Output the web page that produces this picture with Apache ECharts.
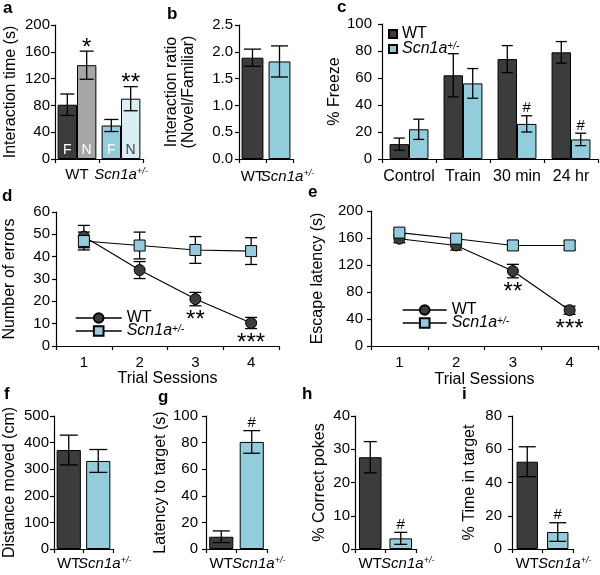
<!DOCTYPE html>
<html><head><meta charset="utf-8">
<script src="https://cdn.jsdelivr.net/npm/echarts@6/dist/echarts.min.js"></script>
<style>html,body{margin:0;padding:0;background:#fff}#c{width:600px;height:575px}</style>
</head><body><div id="c"></div>
<script>
// ---------------- DATA ----------------
const groups = ['WT', 'Scn1a'];
// a: social novelty interaction time (s)
const aFamiliar = [81, 50];
const aFamiliarErr = [16, 9];
const aNovel = [140, 90];
const aNovelErr = [21, 18];
const aNovelMarks = ['*', '**'];
const aBarText = ['F', 'N'];
// b: interaction ratio
const bRatio = [1.89, 1.82];
const bRatioErr = [0.16, 0.29];
// c: fear conditioning
const cCats = ['Control', 'Train', '30 min', '24 hr'];
const cWT = [11, 62, 74, 79];
const cWTErr = [4.5, 16, 10, 8];
const cScn = [22, 56, 26, 14.5];
const cScnErr = [7.5, 11, 6, 4.6];
const cScnMarks = ['', '', '#', '#'];
// d, e: Barnes maze sessions
const sessions = ['1', '2', '3', '4'];
const dWT = [49, 34, 21, 10.3];
const dWTErr = [5, 3.8, 3, 2.5];
const dScn = [47, 45, 43, 42.5];
const dScnErr = [4, 6, 6, 6];
const dWTMarks = ['', '', '**', '***'];
const eWT = [159, 149, 111, 53];
const eWTErr = [6, 7, 10, 6];
const eScn = [168, 159, 149, 149];
const eScnErr = [4, 5, 6, 6];
const eWTMarks = ['', '', '**', '***'];
// f-i
const fDist = [372, 331];
const fDistErr = [56, 43];
const gLatency = [9.2, 80.5];
const gLatencyErr = [4.4, 8.5];
const gMarks = ['', '#'];
const hPokes = [27.6, 3.2];
const hPokesErr = [4.7, 1.8];
const hMarks = ['', '#'];
const iTime = [52.5, 10.2];
const iTimeErr = [9, 5.6];
const iMarks = ['', '#'];

// ---------------- STYLE ----------------
const FONT = '"Liberation Sans", Arial, sans-serif';
const DARK = '#3c3c3c', BLUE = '#92cddc', GRAY = '#a6a6a6', PALE = '#dbeef4';
const grids = [
  {left: 55, top: 25, width: 88, height: 134},   // a
  {left: 239, top: 25, width: 54, height: 134},  // b
  {left: 382, top: 24, width: 216, height: 135}, // c
  {left: 54, top: 212, width: 225, height: 134}, // d
  {left: 371, top: 211, width: 227, height: 135},// e
  {left: 53, top: 416, width: 60, height: 133},  // f
  {left: 206, top: 416, width: 61, height: 133}, // g
  {left: 355, top: 416, width: 61, height: 133}, // h
  {left: 512, top: 416, width: 61, height: 133}  // i
];
const black = '#000';
const rich = (shift) => ({
  i: {fontStyle: 'italic', fontSize: 15, fontFamily: FONT, color: black, padding: [0, 0, 0, shift]},
  s: {fontStyle: 'italic', fontSize: 9, fontFamily: FONT, color: black, verticalAlign: 'top', padding: [0, 0, 6, 0]}
});
const grpFmt = v => v === 'Scn1a' ? '{i|Scn1a}{s|+/-}' : v;

function xAx(gi, cats, margin, shift, fs, name, nameGap) {
  return {type: 'category', gridIndex: gi, data: cats, boundaryGap: true,
    name: name || '', nameLocation: 'middle', nameGap: nameGap || 20,
    nameTextStyle: {color: black, fontSize: 16, fontFamily: FONT},
    axisLine: {show: true, lineStyle: {color: black, width: 1.2}},
    axisTick: {show: true, length: 4, lineStyle: {color: black, width: 1.2}},
    axisLabel: {color: black, fontSize: fs || 15, fontFamily: FONT, margin: margin,
      formatter: grpFmt, rich: rich(shift || 0), interval: 0},
    splitLine: {show: false}};
}
function yAx(gi, max, interval, name, gap, margin, fmt) {
  return {type: 'value', gridIndex: gi, min: 0, max: max, interval: interval,
    name: name, nameLocation: 'middle', nameRotate: 90, nameGap: gap,
    nameTextStyle: {color: black, fontSize: 16, fontFamily: FONT, lineHeight: 17},
    axisLine: {show: true, lineStyle: {color: black, width: 1.2}},
    axisTick: {show: true, length: 4, lineStyle: {color: black, width: 1.2}},
    axisLabel: {color: black, fontSize: 15, fontFamily: FONT, margin: margin, formatter: fmt},
    splitLine: {show: false}};
}
function barSeries(gi, vals, colors, width, extra) {
  return Object.assign({type: 'bar', xAxisIndex: gi, yAxisIndex: gi, barWidth: width, barGap: '0%',
    data: vals.map((v, k) => ({value: v, itemStyle: {color: colors[k]}})),
    itemStyle: {borderColor: black, borderWidth: 1}, z: 2}, extra || {});
}
function errSeries(gi, vals, errs, marks, opt) {
  return {type: 'custom', xAxisIndex: gi, yAxisIndex: gi, z: 5, silent: true,
    data: vals.map((v, k) => [k, v, errs[k]]),
    encode: {x: 0, y: 1},
    renderItem: (params, api) => {
      const k = api.value(0), v = api.value(1), e = api.value(2);
      const cw = api.size([1, 0])[0];
      const pt = api.coord([k, v + e]);
      const pb = api.coord([k, v - e]);
      const x = pt[0] + (opt.off || 0) * cw;
      const hc = opt.cap / 2;
      const st = {stroke: black, lineWidth: 1.3};
      const ch = [
        {type: 'line', shape: {x1: x, y1: pt[1], x2: x, y2: pb[1]}, style: st},
        {type: 'line', shape: {x1: x - hc, y1: pt[1], x2: x + hc, y2: pt[1]}, style: st},
        {type: 'line', shape: {x1: x - hc, y1: pb[1], x2: x + hc, y2: pb[1]}, style: st}
      ];
      const m = marks && marks[params.dataIndex];
      if (m) {
        const star = m[0] === '*';
        const y = opt.below ? pb[1] + 15 : pt[1] - (star ? 3 : 7.5);
        ch.push({type: 'text', style: {text: m, x: x, y: y, align: 'center', verticalAlign: 'middle',
          fontSize: star ? 24 : 15, fontFamily: FONT, fill: black}});
      }
      return {type: 'group', children: ch};
    }};
}
function lineSeries(gi, name, vals, symbol, color) {
  return {type: 'line', name: name, xAxisIndex: gi, yAxisIndex: gi, data: vals,
    symbol: symbol, symbolSize: 11, z: 6,
    lineStyle: {color: black, width: 1.1},
    itemStyle: {color: color, borderColor: black, borderWidth: 1}};
}
const letter = (t, l, tp) => ({text: t, left: l, top: tp, padding: 0,
  textStyle: {fontSize: 17, fontWeight: 'bold', fontFamily: FONT, color: black}});
const legFmt = n => n.trim().indexOf('Scn') === 0 ? '{i|Scn1a}{s|+/-}' : 'WT';
const legRich = {
  i: {fontStyle: 'italic', fontSize: 16, fontFamily: FONT, color: black},
  s: {fontStyle: 'italic', fontSize: 10, fontFamily: FONT, color: black, verticalAlign: 'top', padding: [0, 0, 6, 0]}
};

const option = {
  animation: false,
  backgroundColor: '#fff',
  textStyle: {fontFamily: FONT},
  title: [
    letter('a', 3, 0), letter('b', 167, 6), letter('c', 337, -1),
    letter('d', 2, 188), letter('e', 308, 184),
    letter('f', 4, 386), letter('g', 158, 389), letter('h', 302, 386), letter('i', 462, 386)
  ],
  grid: grids,
  legend: [
    {orient: 'vertical', left: 383, top: 21, itemWidth: 8, itemHeight: 8, itemGap: -1, icon: 'rect',
      data: ['WT', 'Scn1a+/-'], formatter: legFmt,
      textStyle: {fontSize: 16, fontFamily: FONT, color: black, lineHeight: 15, rich: legRich}},
    {orient: 'vertical', left: 70, top: 305, itemWidth: 46, itemHeight: 12, itemGap: -3,
      data: ['WT ', 'Scn1a+/- '], formatter: legFmt,
      lineStyle: {width: 1.4, color: black},
      textStyle: {fontSize: 16, fontFamily: FONT, color: black, lineHeight: 14, rich: legRich}},
    {orient: 'vertical', left: 397, top: 297, itemWidth: 44, itemHeight: 12, itemGap: -3,
      data: ['WT  ', 'Scn1a+/-  '], formatter: legFmt,
      lineStyle: {width: 1.4, color: black},
      textStyle: {fontSize: 16, fontFamily: FONT, color: black, lineHeight: 14, rich: legRich}}
  ],
  xAxis: [
    xAx(0, groups, 8, 0), xAx(1, groups, 10, 16), xAx(2, cCats, 10, 0, 16),
    xAx(3, sessions, 9, 0, 15, 'Trial Sessions', 21), xAx(4, sessions, 9, 0, 15, 'Trial Sessions', 26),
    xAx(5, groups, 7, 13), xAx(6, groups, 7, 14), xAx(7, groups, 7, 14), xAx(8, groups, 7, 14)
  ],
  yAxis: [
    yAx(0, 200, 40, 'Interaction time (s)', 36, 5),
    yAx(1, 2.5, 0.5, 'Interaction ratio\n(Novel/Familiar)', 42, 6, v => v.toFixed(1)),
    yAx(2, 100, 20, '% Freeze', 34, 10),
    yAx(3, 60, 10, 'Number of errors', 38, 6),
    yAx(4, 200, 40, 'Escape latency (s)', 45, 8),
    yAx(5, 500, 100, 'Distance moved (cm)', 36, 5),
    yAx(6, 100, 20, 'Latency to target (s)', 36, 8),
    yAx(7, 40, 10, '% Correct pokes', 27, 5),
    yAx(8, 80, 20, '% Time in target', 34, 10)
  ],
  series: [
    // a
    barSeries(0, aFamiliar, [DARK, BLUE], '44%', {name: 'aF',
      label: {show: true, position: 'insideBottom', distance: 2, formatter: aBarText[0], color: '#fff', fontSize: 14, fontFamily: FONT}}),
    barSeries(0, aNovel, [GRAY, PALE], '44%', {name: 'aN',
      label: {show: true, position: 'insideBottom', distance: 2, formatter: p => aBarText[1],
        color: '#fff', fontSize: 14, fontFamily: FONT}}),
    errSeries(0, aFamiliar, aFamiliarErr, null, {off: -0.22, cap: 14}),
    errSeries(0, aNovel, aNovelErr, aNovelMarks, {off: 0.22, cap: 14}),
    // b
    barSeries(1, bRatio, [DARK, BLUE], '81%', {name: 'b'}),
    errSeries(1, bRatio, bRatioErr, null, {cap: 17}),
    // c
    barSeries(2, cWT, cWT.map(() => DARK), '36%', {name: 'WT', itemStyle: {color: DARK, borderColor: black, borderWidth: 1}}),
    barSeries(2, cScn, cScn.map(() => BLUE), '36%', {name: 'Scn1a+/-', itemStyle: {color: BLUE, borderColor: black, borderWidth: 1}}),
    errSeries(2, cWT, cWTErr, null, {off: -0.18, cap: 11}),
    errSeries(2, cScn, cScnErr, cScnMarks, {off: 0.18, cap: 11}),
    // d
    errSeries(3, dWT, dWTErr, dWTMarks, {cap: 12, below: true}),
    errSeries(3, dScn, dScnErr, null, {cap: 12}),
    lineSeries(3, 'WT ', dWT, 'circle', DARK),
    lineSeries(3, 'Scn1a+/- ', dScn, 'rect', BLUE),
    // e
    errSeries(4, eWT, eWTErr, eWTMarks, {cap: 12, below: true}),
    errSeries(4, eScn, eScnErr, null, {cap: 12}),
    lineSeries(4, 'WT  ', eWT, 'circle', DARK),
    lineSeries(4, 'Scn1a+/-  ', eScn, 'rect', BLUE),
    // f
    barSeries(5, fDist, [DARK, BLUE], '82%', {name: 'f'}),
    errSeries(5, fDist, fDistErr, null, {cap: 18}),
    // g
    barSeries(6, gLatency, [DARK, BLUE], '79%', {name: 'g'}),
    errSeries(6, gLatency, gLatencyErr, gMarks, {cap: 17}),
    // h
    barSeries(7, hPokes, [DARK, BLUE], '74%', {name: 'h'}),
    errSeries(7, hPokes, hPokesErr, hMarks, {cap: 13}),
    // i
    barSeries(8, iTime, [DARK, BLUE], '70%', {name: 'i'}),
    errSeries(8, iTime, iTimeErr, iMarks, {cap: 17})
  ]
};
// N label on pale bar is dark
option.series[1].data[1].label = {color: '#3a4a55'};
const chart = echarts.init(document.getElementById('c'), null, {renderer: 'canvas'});
chart.setOption(option);
</script>
</body></html>
